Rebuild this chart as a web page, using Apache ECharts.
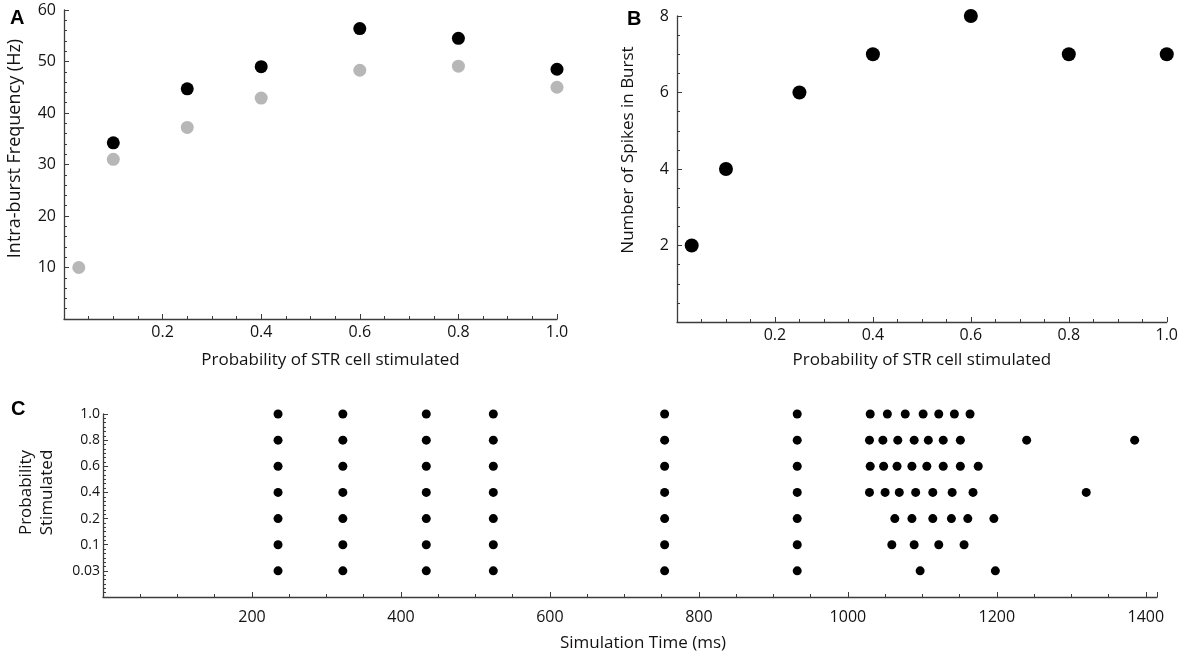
<!DOCTYPE html>
<html>
<head>
<meta charset="utf-8">
<script src="https://cdn.jsdelivr.net/npm/echarts@6/dist/echarts.min.js"></script>
<style>
	html, body { margin: 0; padding: 0; background: #fff; }
	#chart { width: 1181px; height: 655px; }
</style>
</head>
<body>
<div id="chart"></div>
<script>
// panel A : intra-burst frequency
const probA_black = [0.1, 0.25, 0.4, 0.6, 0.8, 1.0];
const freqA_black = [34.2, 44.7, 49.0, 56.4, 54.5, 48.5];
const probA_gray = [0.03, 0.1, 0.25, 0.4, 0.6, 0.8, 1.0];
const freqA_gray = [10.0, 31.0, 37.2, 42.9, 48.3, 49.1, 45.0];

// panel B : spikes per burst
const probB = [0.03, 0.1, 0.25, 0.4, 0.6, 0.8, 1.0];
const spikesB = [2, 4, 6, 7, 8, 7, 7];

// panel C : raster, one row per probability (bottom to top)
const rowLabels = ['0.03', '0.1', '0.2', '0.4', '0.6', '0.8', '1.0'];
const spikes_003 = [235, 322, 434, 524, 754, 932, 1097, 1198];
const spikes_01 = [235, 322, 434, 524, 754, 932, 1059, 1089, 1122, 1156];
const spikes_02 = [235, 322, 434, 524, 754, 932, 1063, 1086, 1114, 1139, 1161, 1196];
const spikes_04 = [235, 322, 434, 524, 754, 932, 1029, 1050, 1069, 1091, 1114, 1140, 1168, 1320];
const spikes_06 = [235, 322, 434, 524, 754, 932, 1030, 1048, 1066, 1086, 1106, 1128, 1151, 1175];
const spikes_08 = [235, 322, 434, 524, 754, 932, 1029, 1047, 1067, 1089, 1108, 1128, 1151, 1240, 1385];
const spikes_10 = [235, 322, 434, 524, 754, 932, 1030, 1053, 1077, 1101, 1122, 1143, 1164];
const rowSpikes = [spikes_003, spikes_01, spikes_02, spikes_04, spikes_06, spikes_08, spikes_10];

const FONT = 'Open Sans';
const TXT = '#141213';
const AX = '#3c3c3c';

function zip(xs, ys) {
	return xs.map((x, i) => [x, ys[i]]);
}

var rasterData = [];
rowSpikes.forEach((row, i) => {
	for (let t of row) rasterData.push([t, i + 1]);
});

function axisBase(extra) {
	let a = {
		axisLine: { show: true, onZero: false, lineStyle: { color: AX, width: 1.3 } },
		axisTick: { show: true, inside: true, length: 5, lineStyle: { color: AX, width: 1 } },
		splitLine: { show: false },
		nameLocation: 'middle',
	};
	return Object.assign(a, extra);
}

function minor(n) {
	return { show: true, splitNumber: n, length: 3, lineStyle: { color: AX, width: 1 } };
}

function label(size, margin, fmt, more) {
	return Object.assign({ color: TXT, fontFamily: FONT, fontSize: size, margin: margin, formatter: fmt }, more || {});
}

function nameStyle(size, padding, more) {
	return Object.assign({ color: TXT, fontFamily: FONT, fontSize: size, padding: padding }, more || {});
}

const letterStyle = { fontFamily: 'Liberation Sans', fontWeight: 'bold', fontSize: 20, color: '#000' };

var chart = echarts.init(document.getElementById('chart'), null, { renderer: 'canvas' });

var option = {
	animation: false,
	backgroundColor: '#fff',
	title: [
		{ text: 'A', left: 5, top: 3, textStyle: letterStyle },
		{ text: 'B', left: 622, top: 4, textStyle: letterStyle },
		{ text: 'C', left: 6, top: 394, textStyle: letterStyle },
	],
	grid: [
		{ left: 64, top: 10, width: 493, height: 309 },
		{ left: 677, top: 16, width: 496, height: 306 },
		{ left: 103, top: 414, width: 1054, height: 183 },
	],
	xAxis: [
		axisBase({
			gridIndex: 0, type: 'value', min: 0, max: 1, interval: 0.2,
			minorTick: minor(4),
			axisLabel: label(16, 5, v => v === 0 ? '' : v.toFixed(1)),
			name: 'Probability of STR cell stimulated', nameGap: 33,
			nameTextStyle: nameStyle(17, [0, 0, 0, 40]),
		}),
		axisBase({
			gridIndex: 1, type: 'value', min: 0, max: 1, interval: 0.2,
			minorTick: minor(4),
			axisLabel: label(16, 5, v => v === 0 ? '' : v.toFixed(1)),
			name: 'Probability of STR cell stimulated', nameGap: 30,
			nameTextStyle: nameStyle(17, 0),
		}),
		axisBase({
			gridIndex: 2, type: 'value', min: 0, max: 1415, interval: 200,
			minorTick: minor(4),
			axisLabel: label(16, 12, v => (v === 0 || v % 200 !== 0) ? '' : String(v), { showMaxLabel: false }),
			name: 'Simulation Time (ms)', nameGap: 38,
			nameTextStyle: nameStyle(17, [0, 0, 0, 26]),
		}),
	],
	yAxis: [
		axisBase({
			gridIndex: 0, type: 'value', min: 0, max: 60, interval: 10,
			minorTick: minor(5),
			axisLabel: label(16, 8, v => v === 0 ? '' : String(v)),
			name: 'Intra-burst Frequency (Hz)', nameGap: 40,
			nameTextStyle: nameStyle(18, [0, 0, 0, 32]),
		}),
		axisBase({
			gridIndex: 1, type: 'value', min: 0, max: 8, interval: 2,
			minorTick: minor(4),
			axisLabel: label(16, 8, v => v === 0 ? '' : String(v)),
			name: 'Number of Spikes in Burst', nameGap: 40,
			nameTextStyle: nameStyle(17, [0, 0, 0, 38]),
		}),
		axisBase({
			gridIndex: 2, type: 'value', min: 0, max: 7, interval: 1,
			minorTick: minor(6),
			axisLabel: label(14, 3, v => v === 0 ? '' : rowLabels[v - 1]),
			name: 'Probability\nStimulated', nameGap: 45,
			nameTextStyle: nameStyle(17, [0, 0, 0, 26], { lineHeight: 21 }),
		}),
	],
	series: [
		{
			type: 'scatter', xAxisIndex: 0, yAxisIndex: 0,
			data: zip(probA_gray, freqA_gray),
			symbolSize: 13, itemStyle: { color: '#b7b7b7', opacity: 1 }, z: 2,
		},
		{
			type: 'scatter', xAxisIndex: 0, yAxisIndex: 0,
			data: zip(probA_black, freqA_black),
			symbolSize: 13, itemStyle: { color: '#000', opacity: 1 }, z: 3,
		},
		{
			type: 'scatter', xAxisIndex: 1, yAxisIndex: 1,
			data: zip(probB, spikesB),
			symbolSize: 14, itemStyle: { color: '#000', opacity: 1 },
		},
		{
			type: 'scatter', xAxisIndex: 2, yAxisIndex: 2,
			data: rasterData,
			symbolSize: 9, itemStyle: { color: '#000', opacity: 1 },
		},
	],
};

chart.setOption(option);
</script>
</body>
</html>
